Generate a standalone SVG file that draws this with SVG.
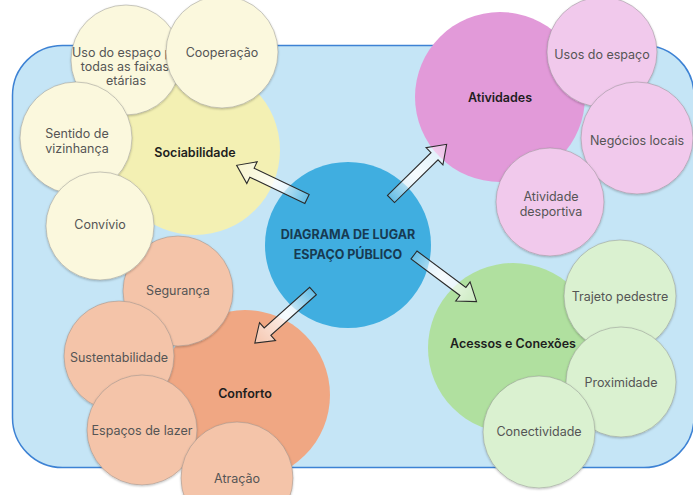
<svg xmlns="http://www.w3.org/2000/svg" width="693" height="495" viewBox="0 0 693 495">
<defs>
<style>
.lbl{font-family:Inter,"Open Sans","Liberation Sans",sans-serif;font-size:12.5px;fill:#555;text-anchor:middle;dominant-baseline:central}
.hd{font-family:Inter,"Open Sans","Liberation Sans",sans-serif;font-size:12.5px;font-weight:600;fill:#1e1e1e;text-anchor:middle;dominant-baseline:central}
.ctr{font-family:Inter,"Open Sans","Liberation Sans",sans-serif;font-size:12.5px;font-weight:700;fill:#173a52;text-anchor:middle;dominant-baseline:central}
.sm{stroke:#8a8a8a;stroke-opacity:0.45;stroke-width:1;filter:url(#sh)}
.y{fill:#fbf8dd}.p{fill:#f1c9ec}.g{fill:#daf1d0}.s{fill:#f4c4a9}
.arr{fill:url(#ag);stroke:#2b2b2b;stroke-width:1.1;stroke-linejoin:miter}
</style>
<filter id="sh" x="-20%" y="-20%" width="140%" height="140%">
<feDropShadow dx="0" dy="1" stdDeviation="1.2" flood-color="#000" flood-opacity="0.25"/>
</filter>
<linearGradient id="ag" x1="0" y1="0" x2="1" y2="0">
<stop offset="0" stop-color="#ffffff" stop-opacity="0.2"/>
<stop offset="0.45" stop-color="#ffffff" stop-opacity="0.85"/>
<stop offset="1" stop-color="#ffffff" stop-opacity="0.35"/>
</linearGradient>
<path id="arrow" d="M0,-5 H61 V-12 L78,0 L61,12 V5 H0 Z"/>
</defs>

<rect x="12.5" y="45.5" width="681.5" height="422" rx="50" ry="50" fill="#c5e5f6" stroke="#3d82d4" stroke-width="1.5"/>

<g id="centro">
<circle cx="348" cy="245" r="83" fill="#40aee0"/>
<text class="ctr" x="348" y="234">DIAGRAMA DE LUGAR</text>
<text class="ctr" x="348" y="254">ESPAÇO PÚBLICO</text>
</g>

<g id="conforto">
<circle cx="245" cy="395" r="85" fill="#f0a783"/>
<text class="hd" x="245" y="393">Conforto</text>
</g>
<g id="seguranca"><circle class="sm s" cx="178" cy="291" r="55"/><text class="lbl" x="178" y="290">Segurança</text></g>
<g id="sustentabilidade"><circle class="sm s" cx="119" cy="356" r="55"/><text class="lbl" x="119" y="357">Sustentabilidade</text></g>
<g id="lazer"><circle class="sm s" cx="142" cy="430" r="55"/><text class="lbl" x="142" y="430">Espaços de lazer</text></g>
<g id="atracao"><circle class="sm s" cx="237" cy="478" r="56"/><text class="lbl" x="237" y="478">Atração</text></g>

<g id="sociabilidade">
<circle cx="195" cy="150" r="85" fill="#f3f0b3"/>
<text class="hd" x="195" y="152">Sociabilidade</text>
</g>
<g id="uso"><circle class="sm y" cx="126" cy="60" r="55"/>
<text class="lbl" x="72" y="52" style="text-anchor:start">Uso do espaço p</text>
<text class="lbl" x="125" y="66">todas as faixas</text>
<text class="lbl" x="126" y="80">etárias</text></g>
<g id="cooperacao"><circle class="sm y" cx="222" cy="52" r="56"/><text class="lbl" x="222" y="52">Cooperação</text></g>
<g id="sentido"><circle class="sm y" cx="76" cy="138" r="56"/><text class="lbl" x="77" y="133">Sentido de</text><text class="lbl" x="77" y="148">vizinhança</text></g>
<g id="convivio"><circle class="sm y" cx="100" cy="226" r="54"/><text class="lbl" x="100" y="224">Convívio</text></g>

<g id="atividades">
<circle cx="500" cy="97" r="85" fill="#e29ad9"/>
<text class="hd" x="500" y="97">Atividades</text>
</g>
<g id="usos"><circle class="sm p" cx="602" cy="52" r="55"/><text class="lbl" x="602" y="54">Usos do espaço</text></g>
<g id="negocios"><circle class="sm p" cx="637" cy="138" r="56"/><text class="lbl" x="637" y="140">Negócios locais</text></g>
<g id="desportiva"><circle class="sm p" cx="550" cy="202" r="54"/><text class="lbl" x="551" y="196">Atividade</text><text class="lbl" x="551" y="211">desportiva</text></g>

<g id="acessos">
<circle cx="513" cy="348" r="85" fill="#b0e09f"/>
<text class="hd" x="513" y="343">Acessos e Conexões</text>
</g>
<g id="trajeto"><circle class="sm g" cx="620" cy="296" r="56"/><text class="lbl" x="620" y="296">Trajeto pedestre</text></g>
<g id="proximidade"><circle class="sm g" cx="621" cy="382" r="55"/><text class="lbl" x="621" y="382">Proximidade</text></g>
<g id="conectividade"><circle class="sm g" cx="539" cy="432" r="56"/><text class="lbl" x="539" y="431">Conectividade</text></g>

<g id="connectors">
<use href="#arrow" class="arr" transform="translate(307,199) rotate(205.6)"/>
<use href="#arrow" class="arr" transform="translate(391,199) rotate(-44.5)"/>
<use href="#arrow" class="arr" transform="translate(414,255) rotate(36.7)"/>
<use href="#arrow" class="arr" transform="translate(313,291) rotate(138.2)"/>
</g>
</svg>
